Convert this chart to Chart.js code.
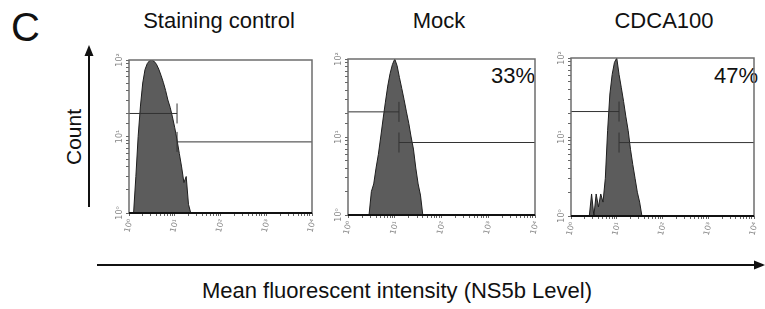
<!DOCTYPE html>
<html lang="en">
<head>
  <meta charset="UTF-8">
  <title>NS5b level histograms</title>
  <script src="https://cdn.jsdelivr.net/npm/chart.js"></script>
  <style>
    html, body {
      margin: 0;
      padding: 0;
      background: #fff;
      overflow: hidden;
    }
    body {
      width: 765px;
      height: 309px;
      position: relative;
      font-family: "Liberation Sans", Arial, sans-serif;
    }
    canvas { position: absolute; }
    svg { position: absolute; left: 0; top: 0; }
  </style>
</head>
<body>
  <svg width="765" height="309" font-family="Liberation Sans, Arial, sans-serif" fill="#111">
    <text x="11" y="41" font-size="40">C</text>
    <text x="219" y="28" font-size="22" text-anchor="middle">Staining control</text>
    <text x="439" y="28" font-size="22" text-anchor="middle">Mock</text>
    <text x="664" y="28" font-size="22" text-anchor="middle">CDCA100</text>
    <text x="535" y="83" font-size="22" text-anchor="end">33%</text>
    <text x="758" y="83" font-size="22" text-anchor="end">47%</text>

    <!-- count arrow -->
    <line x1="89" y1="207" x2="89" y2="54" stroke="#111" stroke-width="2"/>
    <polygon points="89,45 84.5,56 93.5,56" fill="#111"/>
    <text x="81" y="137" font-size="21" text-anchor="middle" transform="rotate(-90 81 137)">Count</text>

    <!-- intensity arrow -->
    <line x1="97" y1="265" x2="756" y2="265" stroke="#111" stroke-width="2"/>
    <polygon points="765,265 754,260.5 754,269.5" fill="#111"/>
    <text x="397" y="298" font-size="22" text-anchor="middle">Mean fluorescent intensity (NS5b Level)</text>
  </svg>

  <canvas id="c1"></canvas>
  <canvas id="c2"></canvas>
  <canvas id="c3"></canvas>

  <script>
    // bins are log10 of the intensity, counts per bin
    const p1Bins = [0.10, 0.15, 0.20, 0.25, 0.30, 0.35, 0.40, 0.45, 0.50, 0.55, 0.60, 0.65, 0.70,
                    0.75, 0.80, 0.85, 0.90, 0.95, 1.00, 1.05, 1.10, 1.15, 1.20, 1.25, 1.30, 1.35];
    const p1Counts = [1, 3, 10, 25, 50, 75, 90, 98, 100, 96, 88, 76, 63,
                      51, 40, 30, 24, 18, 13, 9, 6, 4, 2.5, 3, 1.3, 1];

    const p2Bins = [0.45, 0.50, 0.55, 0.60, 0.65, 0.70, 0.75, 0.80, 0.85, 0.90, 0.95, 1.00,
                    1.05, 1.10, 1.15, 1.20, 1.25, 1.30, 1.35, 1.40, 1.45, 1.50, 1.55, 1.60];
    const p2Counts = [1, 2, 2.5, 4, 6, 10, 17, 28, 45, 65, 85, 100,
                      82, 58, 42, 30, 21, 15, 10, 7, 4, 2.5, 1.8, 1];

    const p3Bins = [0.40, 0.45, 0.50, 0.55, 0.60, 0.65, 0.70, 0.75, 0.80, 0.85, 0.90, 0.95,
                    1.00, 1.05, 1.10, 1.15, 1.20, 1.25, 1.30, 1.35, 1.40, 1.45, 1.50, 1.55];
    const p3Counts = [1, 1.9, 1, 1.9, 1.3, 1.9, 1.5, 3, 12, 35, 62, 88,
                      100, 62, 42, 28, 18, 12, 7, 4.5, 3, 2, 1.5, 1];

    // marker gates: split point (log10) and height of the two bars
    const gateSplit = [1.05, 1.09, 1.05];
    const gateHigh = [20, 21, 21];
    const gateLow = [8.5, 8.5, 8.5];

    const xTickValues = [0, 1, 2, 3, 4];
    const xTickLabels = ['10⁰', '10¹', '10²', '10³', '10⁴'];
    const yTickValues = [1, 10, 100];
    const yTickLabels = ['10⁰', '10¹', '10²'];

    // plot boxes in page pixels
    const areas = [
      { left: 129, right: 320, top: 52, bottom: 213 },
      { left: 348, right: 543, top: 51, bottom: 215 },
      { left: 571, right: 762, top: 50, bottom: 216 },
    ];
    const YW = 22, XH = 28, PT = 3, PR = 3;

    const frame = {
      id: 'frame',
      afterDraw(chart) {
        const { ctx, chartArea: a, scales } = chart;
        ctx.save();
        ctx.strokeStyle = '#6e6e6e';
        ctx.lineWidth = 1.5;
        ctx.beginPath();
        ctx.moveTo(a.left, a.bottom);
        ctx.lineTo(a.left, a.top);
        ctx.lineTo(a.right, a.top);
        ctx.lineTo(a.right, a.bottom);
        ctx.stroke();
        ctx.strokeStyle = '#111';
        ctx.lineWidth = 2;
        ctx.beginPath();
        ctx.moveTo(a.left, a.bottom);
        ctx.lineTo(a.right, a.bottom);
        ctx.stroke();

        ctx.fillStyle = '#858585';
        ctx.font = '8px "DejaVu Sans"';
        ctx.textAlign = 'center';
        ctx.textBaseline = 'middle';
        yTickValues.forEach((v, i) => {
          const y = scales.y.getPixelForValue(v);
          ctx.save();
          ctx.translate(a.left - 9, y);
          ctx.rotate(-Math.PI / 2);
          ctx.fillText(yTickLabels[i], 0, 0);
          ctx.restore();
        });
        xTickValues.forEach((v, i) => {
          const x = scales.x.getPixelForValue(v);
          ctx.save();
          ctx.translate(x, a.bottom + 13);
          ctx.rotate(-1.3);
          ctx.fillText(xTickLabels[i], 0, 0);
          ctx.restore();
        });
        ctx.restore();
      }
    };

    function makePanel(id, area, bins, counts, k) {
      const cv = document.getElementById(id);
      const w = area.right - area.left + YW + PR;
      const h = area.bottom - area.top + PT + XH;
      cv.width = w;
      cv.height = h;
      cv.style.left = (area.left - YW) + 'px';
      cv.style.top = (area.top - PT) + 'px';

      const hist = bins.map((b, i) => ({ x: b, y: counts[i] }));
      const gateOpts = {
        borderColor: '#333',
        borderWidth: 1,
        pointStyle: 'line',
        pointRotation: 90,
        pointBorderColor: '#333',
        pointBorderWidth: 1,
        fill: false,
      };

      new Chart(cv.getContext('2d'), {
        type: 'line',
        data: {
          datasets: [
            Object.assign({
              data: [{ x: 0, y: gateHigh[k] }, { x: gateSplit[k], y: gateHigh[k] }],
              pointRadius: [0, 10],
            }, gateOpts),
            Object.assign({
              data: [{ x: gateSplit[k], y: gateLow[k] }, { x: 4, y: gateLow[k] }],
              pointRadius: [10, 0],
            }, gateOpts),
            {
              data: hist,
              fill: 'start',
              backgroundColor: '#5c5c5c',
              borderColor: '#1e1e1e',
              borderWidth: 1,
              pointRadius: 0,
            },
          ],
        },
        options: {
          responsive: false,
          animation: false,
          layout: { padding: { top: PT, right: PR, left: 0, bottom: 0 } },
          plugins: { legend: { display: false }, tooltip: { enabled: false } },
          scales: {
            x: {
              type: 'linear',
              min: 0,
              max: 4,
              afterBuildTicks: sc => {
                const t = [];
                for (let d = 0; d < 4; d++) {
                  for (let m = 1; m < 10; m++) t.push({ value: d + Math.log10(m) });
                }
                t.push({ value: 4 });
                sc.ticks = t;
              },
              afterFit: sc => { sc.height = XH; },
              grid: { drawOnChartArea: false, drawTicks: true, tickLength: 3, color: '#666' },
              border: { display: false },
              ticks: { display: false },
            },
            y: {
              type: 'logarithmic',
              min: 1,
              max: 100,
              afterFit: sc => { sc.width = YW; },
              grid: { drawOnChartArea: false, drawTicks: true, tickLength: 3, color: '#666' },
              border: { display: false },
              ticks: { display: false },
            },
          },
        },
        plugins: [frame],
      });
    }

    makePanel('c1', areas[0], p1Bins, p1Counts, 0);
    makePanel('c2', areas[1], p2Bins, p2Counts, 1);
    makePanel('c3', areas[2], p3Bins, p3Counts, 2);
  </script>
</body>
</html>
